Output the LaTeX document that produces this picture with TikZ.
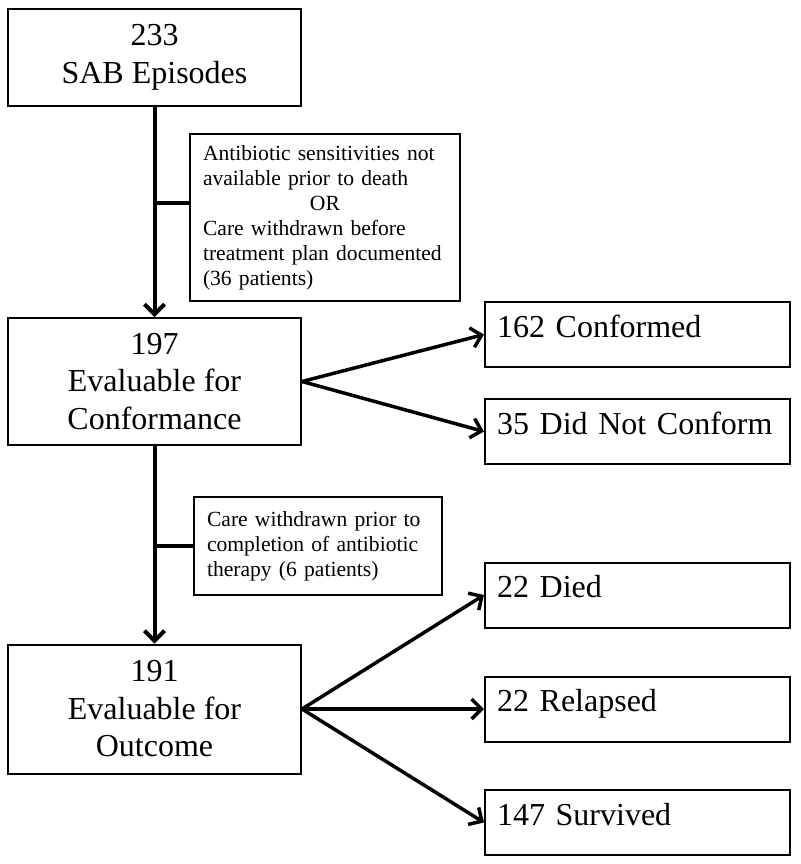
\documentclass[tikz,border=0pt]{standalone}
\usepackage{fontspec}
\setmainfont{Liberation Serif}
\usetikzlibrary{arrows.meta}

\begin{document}
\begin{tikzpicture}[x=1pt, y=-1pt,
    mainbox/.style={draw, line width=2pt, minimum width=293pt, inner sep=0pt, align=center, font=\fontsize{32}{37.5}\selectfont},
    sidebox/.style={draw, line width=2pt, inner xsep=13pt, inner ysep=0pt, align=left, font=\fontsize{21.6}{25}\selectfont},
    resbox/.style={draw, line width=2pt, text width=281pt, inner xsep=12pt, inner ysep=0pt, text height=35pt, text depth=30pt, align=left, font=\fontsize{32}{37.5}\selectfont},
    flow/.style={line width=3.5pt, -{Straight Barb[length=10pt, width=20pt]}}]
\useasboundingbox (0,0) rectangle (800,864);

% main boxes
\node[mainbox, minimum height=97pt] (sab) at (154.5, 57.5) {233\\SAB Episodes};
\node[mainbox, minimum height=127pt] (conf) at (154.5, 381.5) {197\\Evaluable for\\Conformance};
\node[mainbox, minimum height=129pt] (outc) at (154.5, 709) {191\\Evaluable for\\Outcome};

% exclusions
\node[sidebox, text width=244pt, minimum height=167pt] (excl1) at (325, 217.5)
    {Antibiotic sensitivities not\\available prior to death\\\hfill OR\hfill\mbox{}\\Care withdrawn before\\treatment plan documented\\(36 patients)};
\node[sidebox, text width=222pt, minimum height=98pt] (excl2) at (318, 546)
    {Care withdrawn prior to\\completion of antibiotic\\therapy (6 patients)};

\draw[flow, line width=4pt] (sab.south) -- (conf.north);
\draw[flow, line width=4pt] (conf.south) -- (outc.north);
\draw[line width=4pt] (excl1.174) -- (excl1.174 -| sab.south);
\draw[line width=4pt] (excl2.west) -- (excl2.west -| conf.south);

% results
\foreach \name/\y/\txt in {yes/334.5/162 Conformed, no/431.5/35 Did Not Conform} {
    \node[resbox] (\name) at (637.5, \y) {\txt};
    \draw[flow] (conf.east) -- (\name.west);
}
\foreach \name/\y/\txt in {died/595/22 Died, relapsed/709/22 Relapsed, survived/822.5/147 Survived} {
    \node[resbox] (\name) at (637.5, \y) {\txt};
    \draw[flow] (outc.east) -- (\name.west);
}
\end{tikzpicture}
\end{document}
